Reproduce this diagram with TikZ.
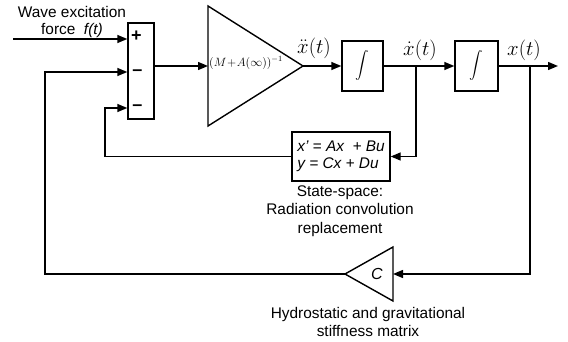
\documentclass[tikz,border=0pt]{standalone}
\usepackage{fontspec}
\setmainfont{Liberation Sans}
\usetikzlibrary{arrows.meta}
\begin{document}
\begin{tikzpicture}[x=1pt,y=-1pt,
  line width=1.4pt,
  arr/.style={-{Triangle[length=10pt,width=8pt]}},
  blk/.style={draw, inner sep=0pt},
  lbl/.style={font=\fontsize{15.4}{18.3}\selectfont, inner sep=0pt, align=center},
  mlbl/.style={inner sep=0pt, font=\fontsize{17.28}{20}\selectfont},
  sgn/.style={font=\fontsize{18}{20}\selectfont\bfseries, inner sep=0pt}]
\useasboundingbox (0,0) rectangle (568,342);

% summing block
\node[blk, minimum width=26pt, minimum height=96pt] (sum) at (141,71) {};
\node[sgn] (plus) at (136.5,36) {+};
\node[sgn] (minA) at (137.5,72.5) {–};
\node[sgn] (minB) at (137.5,108) {–};

% gain triangle
\coordinate (gtop) at (208,6);
\coordinate (gbot) at (208,126);
\coordinate (gout) at (303,66);
\coordinate (gin) at (208,66);
\draw[line join=miter] (gtop) -- (gbot) -- (gout) -- cycle;
\node[inner sep=0pt, font=\fontsize{12}{14}\selectfont] (gain) at (246,63) {$(M\!+\!A(\infty))^{-1}$};

% integrators
\node[blk, minimum width=41pt, minimum height=50pt] (int1) at (362.5,66) {\scalebox{1.35}{$\displaystyle\int$}};
\node[blk, minimum width=43pt, minimum height=50pt] (int2) at (476.5,66) {\scalebox{1.35}{$\displaystyle\int$}};

% state-space block
\node[blk, minimum width=98pt, minimum height=49pt, align=left,
      font=\fontsize{15.4}{17}\selectfont\itshape] (ss) at (341,156.5)
      {x' = Ax\ \ + Bu\\y = Cx + Du};

% stiffness triangle
\coordinate (ctop) at (393,247);
\coordinate (cbot) at (393,301);
\coordinate (cout) at (345,274);
\coordinate (cin) at (393,274);
\draw[line join=miter] (ctop) -- (cbot) -- (cout) -- cycle;
\node[inner sep=0pt, font=\fontsize{16}{18}\selectfont\itshape] (cl) at (377,274) {C};

% coordinates
\coordinate (fin) at (13,39);
\coordinate (out) at (558,66);
\coordinate (b1) at (416,66);
\coordinate (b2) at (530,66);
\coordinate (fb1) at (105,108);
\coordinate (fb2) at (45,72);

% connectors
\draw[arr] (fin) -- (fin -| sum.west);
\draw[arr] (sum.east |- gin) -- (gin);
\draw[arr] (gout) -- (int1.west);
\draw[arr] (int1.east) -- (int2.west);
\draw[arr] (int2.east) -- (out);
\draw[arr] (b1) |- (ss.east);
\draw[arr] (ss.west) -| (fb1) -- (fb1 -| sum.west);
\draw[arr] (b2) |- (cin);
\draw[arr] (cout) -| (fb2) -- (fb2 -| sum.west);

% labels
\node[mlbl] (xdd) at (314,48) {\scalebox{1.2}{$\ddot{x}(t)$}};
\node[mlbl] (xd) at (420,50) {\scalebox{1.2}{$\dot{x}(t)$}};
\node[mlbl] (xx) at (524,50) {\scalebox{1.2}{$x(t)$}};

\node[lbl] (wave) at (72,12) {Wave excitation};
\node[lbl] (force) at (72,31) {force\ \ \textit{f(t)}};
\node[lbl] (sstext) at (340,211) {State-space:\\Radiation convolution\\replacement};
\node[lbl] (hyd) at (368,322) {Hydrostatic and gravitational\\stiffness matrix};
\end{tikzpicture}
\end{document}
